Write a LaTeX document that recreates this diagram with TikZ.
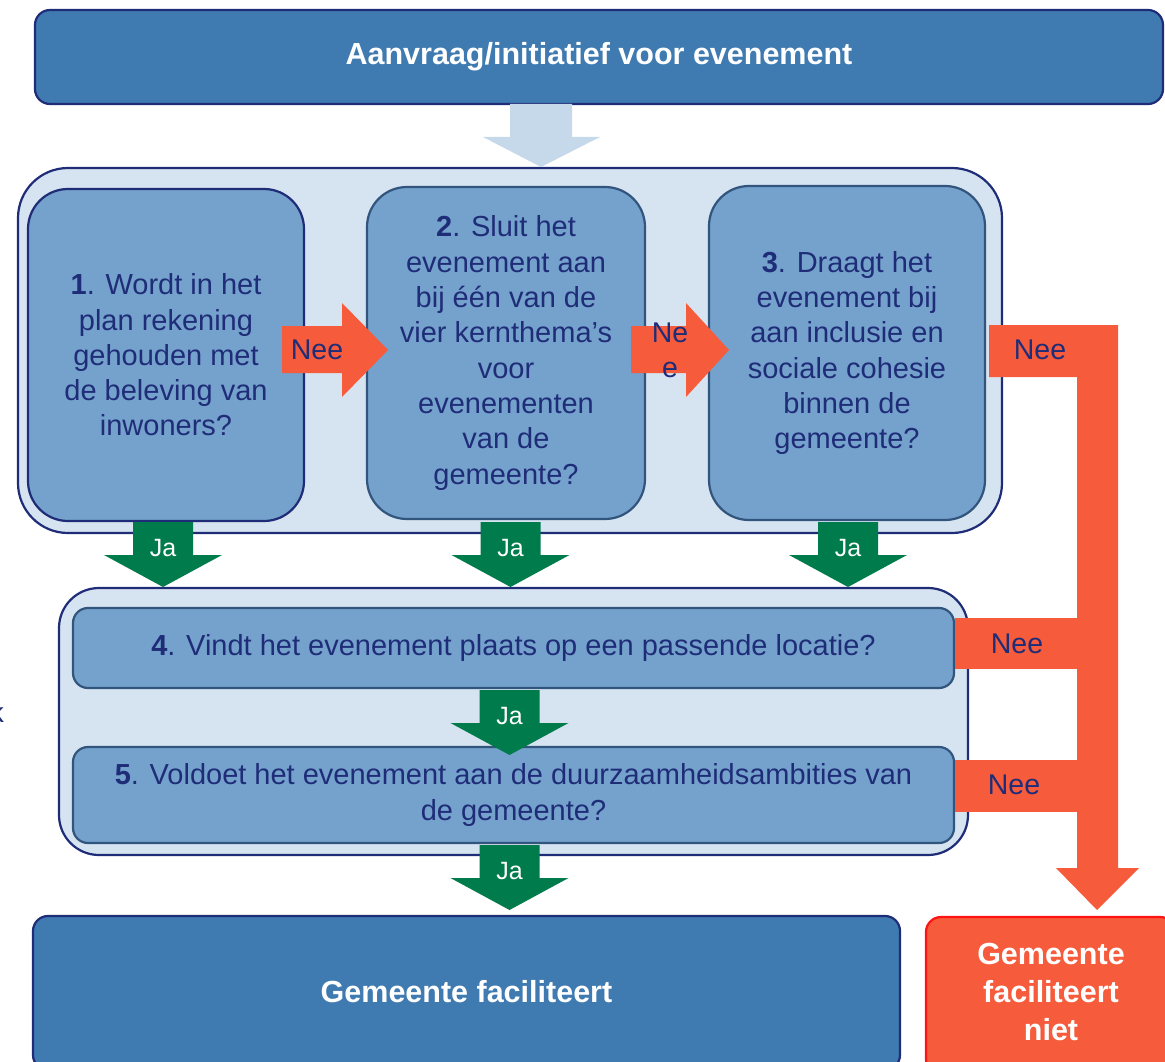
\documentclass[tikz,border=0pt]{standalone}
\usepackage{fontspec}
\setmainfont{Liberation Sans}
\definecolor{cNavy}{RGB}{31,45,120}
\definecolor{cDark}{RGB}{63,123,176}
\definecolor{cCont}{RGB}{214,227,240}
\definecolor{cMid}{RGB}{116,162,204}
\definecolor{cSlate}{RGB}{50,85,125}
\definecolor{cLight}{RGB}{197,217,235}
\definecolor{cOrange}{RGB}{246,91,59}
\definecolor{cGreen}{RGB}{0,123,75}
\definecolor{cRed}{RGB}{255,20,20}
\newcommand\jadown[5]{%
  \fill[cGreen] (#1-30,#2) -- (#1+30,#2) -- (#1+30,#3) -- (#1+59,#3) -- (#1,#4) -- (#1-59,#3) -- (#1-30,#3) -- cycle;
  \node[jalabel] (#5) at (#1,#3-7) {Ja};}
\begin{document}
\begin{tikzpicture}[x=1pt,y=-1pt,
  darkbox/.style={draw=cNavy, line width=2.2pt, fill=cDark, rounded corners=15pt, text=white, font=\fontsize{30.5}{38}\selectfont\bfseries, align=center},
  container/.style={draw=cNavy, line width=2.2pt, fill=cCont},
  qbox/.style={draw=cSlate, line width=2.2pt, fill=cMid, text=cNavy, font=\fontsize{29}{35.3}\selectfont, align=center},
  jalabel/.style={text=white, font=\fontsize{25}{30}\selectfont, inner sep=0pt},
  neelabel/.style={text=cNavy, font=\fontsize{28.5}{35}\selectfont, inner sep=0pt, align=center}]
\useasboundingbox (0,0) rectangle (1165,1062);
\clip (0,0) rectangle (1165,1062);

% top box
\node[darkbox, minimum width=1128pt, minimum height=94pt] (top) at (599,57) {Aanvraag/initiatief voor evenement};

% containers
\node[container, minimum width=984pt, minimum height=365pt, rounded corners=50pt] (c1) at (510,350.5) {};
\node[container, minimum width=909pt, minimum height=267pt, rounded corners=40pt] (c2) at (513.5,721.5) {};

% light arrow
\fill[cLight] (510,104) -- (572,104) -- (572,137) -- (600,137) -- (541,167) -- (483,137) -- (510,137) -- cycle;

% question boxes
\node[qbox, draw=cNavy, minimum width=276pt, minimum height=332pt, rounded corners=40pt] (q1) at (166,355)
  {\textbf{1}. Wordt in het\\plan rekening\\gehouden met\\de beleving van\\inwoners?};
\node[qbox, minimum width=278pt, minimum height=332pt, rounded corners=40pt] (q2) at (506,353)
  {\textbf{2}. Sluit het\\evenement aan\\bij één van de\\vier kernthema’s\\voor\\evenementen\\van de\\gemeente?};
\node[qbox, minimum width=276pt, minimum height=334pt, rounded corners=40pt] (q3) at (847,353)
  {\textbf{3}. Draagt het\\evenement bij\\aan inclusie en\\sociale cohesie\\binnen de\\gemeente?};
\node[qbox, minimum width=881pt, minimum height=80pt, rounded corners=15pt] (q4) at (513.5,648)
  {\textbf{4}. Vindt het evenement plaats op een passende locatie?};
\node[qbox, minimum width=881pt, minimum height=96pt, rounded corners=15pt] (q5) at (513.5,795)
  {\textbf{5}. Voldoet het evenement aan de duurzaamheidsambities van\\de gemeente?};

% bottom boxes
\node[darkbox, minimum width=867pt, minimum height=154pt] (yes) at (466.5,993) {};
\node[text=white, font=\fontsize{30.5}{38}\selectfont\bfseries] (yest) at (466.5,992) {Gemeente faciliteert};
\node[darkbox, draw=cRed, fill=cOrange, minimum width=249pt, minimum height=158pt] (no) at (1050.5,996) {};
\node[text=white, font=\fontsize{30.5}{38}\selectfont\bfseries, align=center] (not) at (1051,992) {Gemeente\\faciliteert\\niet};

% Ja arrows
\jadown{163}{522}{555}{587}{ja1}
\jadown{510.5}{522}{555}{587}{ja2}
\jadown{848}{522}{555}{587}{ja3}
\jadown{509.5}{690}{723}{755}{ja4}
\jadown{509.5}{845}{878}{910}{ja5}

% Nee arrows
\fill[cOrange] (282,326) -- (342,326) -- (342,303) -- (388,350) -- (342,397) -- (342,373) -- (282,373) -- cycle;
\node[neelabel] (nee1) at (317,350) {Nee};
\fill[cOrange] (631,326) -- (686,326) -- (686,303) -- (729,350) -- (686,397) -- (686,373) -- (631,373) -- cycle;
\node[neelabel] (nee2) at (670,350) {Ne\\e};
\fill[cOrange] (989,325) -- (1118,325) -- (1118,868) -- (1139,868) -- (1097,910) -- (1056,868) -- (1077,868) -- (1077,377) -- (989,377) -- cycle;
\node[neelabel] (nee3) at (1040,350) {Nee};
\fill[cOrange] (955,618) rectangle (1077,669);
\node[neelabel] (nee4) at (1017,644) {Nee};
\fill[cOrange] (955,760) rectangle (1077,812);
\node[neelabel] (nee5) at (1014,785) {Nee};

% stray glyph at left edge
\node[anchor=base east, inner sep=0pt, text=cNavy, font=\fontsize{28}{35}\selectfont] (k) at (4,722) {k};
\end{tikzpicture}
\end{document}
